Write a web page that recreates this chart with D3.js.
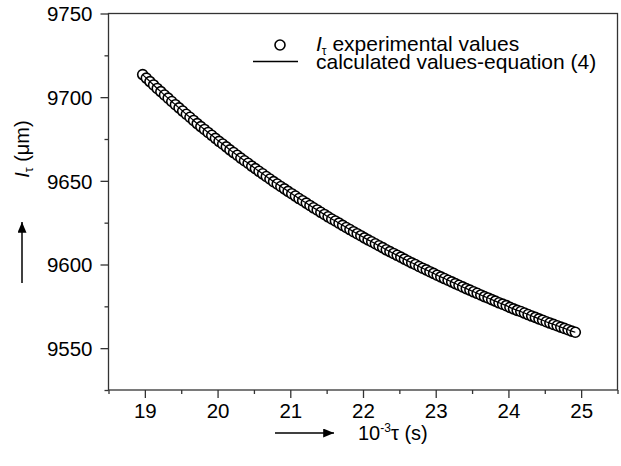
<!DOCTYPE html>
<html>
<head>
<meta charset="utf-8">
<script src="https://cdn.jsdelivr.net/npm/d3@7"></script>
<style>
  body { margin: 0; background: #fff; }
  svg text { font-family: "Liberation Sans", Arial, sans-serif; fill: #000; }
</style>
</head>
<body>
<svg width="621" height="466"></svg>
<script>
const tauValues = [
  18.97, 19.02, 19.07, 19.12, 19.17, 19.22, 19.27, 19.32, 19.37, 19.42,
  19.47, 19.52, 19.57, 19.62, 19.67, 19.72, 19.77, 19.82, 19.87, 19.92,
  19.97, 20.02, 20.07, 20.12, 20.17, 20.22, 20.27, 20.32, 20.37, 20.42,
  20.47, 20.52, 20.57, 20.62, 20.67, 20.72, 20.77, 20.82, 20.87, 20.92,
  20.97, 21.02, 21.07, 21.12, 21.17, 21.22, 21.27, 21.32, 21.37, 21.42,
  21.47, 21.52, 21.57, 21.62, 21.67, 21.72, 21.77, 21.82, 21.87, 21.92,
  21.97, 22.02, 22.07, 22.12, 22.17, 22.22, 22.27, 22.32, 22.37, 22.42,
  22.47, 22.52, 22.57, 22.62, 22.67, 22.72, 22.77, 22.82, 22.87, 22.92,
  22.97, 23.02, 23.07, 23.12, 23.17, 23.22, 23.27, 23.32, 23.37, 23.42,
  23.47, 23.52, 23.57, 23.62, 23.67, 23.72, 23.77, 23.82, 23.87, 23.92,
  23.97, 24.02, 24.07, 24.12, 24.17, 24.22, 24.27, 24.32, 24.37, 24.42,
  24.47, 24.52, 24.57, 24.62, 24.67, 24.72, 24.77, 24.82, 24.87, 24.92
]
const lengthValues = [
  9713.5, 9711.4, 9709.3, 9707.3, 9705.2, 9703.3, 9701.3, 9699.4, 9697.4, 9695.5,
  9693.6, 9691.7, 9689.8, 9688.0, 9686.1, 9684.2, 9682.4, 9680.7, 9678.9, 9677.2,
  9675.4, 9673.6, 9672.0, 9670.3, 9668.5, 9666.9, 9665.3, 9663.6, 9662.0, 9660.5,
  9658.8, 9657.3, 9655.7, 9654.2, 9652.6, 9651.1, 9649.5, 9648.1, 9646.6, 9645.2,
  9643.7, 9642.3, 9640.9, 9639.4, 9638.1, 9636.7, 9635.3, 9633.9, 9632.6, 9631.2,
  9629.9, 9628.5, 9627.2, 9626.0, 9624.7, 9623.4, 9622.1, 9620.9, 9619.6, 9618.4,
  9617.2, 9615.9, 9614.7, 9613.6, 9612.4, 9611.2, 9610.1, 9608.8, 9607.7, 9606.6,
  9605.5, 9604.4, 9603.2, 9602.1, 9601.0, 9600.0, 9598.8, 9597.8, 9596.8, 9595.7,
  9594.7, 9593.6, 9592.6, 9591.6, 9590.6, 9589.6, 9588.6, 9587.6, 9586.6, 9585.6,
  9584.7, 9583.7, 9582.8, 9581.8, 9580.8, 9580.0, 9579.0, 9578.1, 9577.1, 9576.3,
  9575.4, 9574.4, 9573.5, 9572.6, 9571.9, 9571.0, 9570.1, 9569.2, 9568.4, 9567.5,
  9566.7, 9565.8, 9565.0, 9564.2, 9563.4, 9562.6, 9561.8, 9561.0, 9560.2, 9559.5
]
const xTicks = [19, 20, 21, 22, 23, 24, 25]
const xMinorTicks = [18.5, 19.5, 20.5, 21.5, 22.5, 23.5, 24.5, 25.5]
const yTicks = [9550, 9600, 9650, 9700, 9750]
const yMinorTicks = [9525, 9575, 9625, 9675, 9725]

const svg = d3.select('svg')
const margin = {top: 13.5, right: 3.5, bottom: 76, left: 108.5}
const width = +svg.attr('width')
const height = +svg.attr('height')
const innerWidth = width - margin.left - margin.right
const innerHeight = height - margin.top - margin.bottom
const axisColor = '#333'

const data = tauValues.map((t, i) => ({tau: t, len: lengthValues[i]}))

const xscale = d3.scaleLinear().domain([18.5, 25.5]).range([0, innerWidth])
const yscale = d3.scaleLinear().domain([9525, 9750]).range([innerHeight, 0])

const g = svg.append('g')
  .attr('transform', `translate(${margin.left}, ${margin.top})`)

// assen met grote en kleine ticks
const xAxis = g.append('g').attr('transform', `translate(0, ${innerHeight})`)
  .call(d3.axisBottom(xscale).tickValues(xTicks).tickSize(8).tickSizeOuter(0).tickFormat(d3.format('d')))
const xMinor = g.append('g').attr('transform', `translate(0, ${innerHeight})`)
  .call(d3.axisBottom(xscale).tickValues(xMinorTicks).tickSize(4).tickFormat(''))
const yAxis = g.append('g')
  .call(d3.axisLeft(yscale).tickValues(yTicks).tickSize(8).tickSizeOuter(0).tickPadding(8).tickFormat(d3.format('d')))
const yMinor = g.append('g')
  .call(d3.axisLeft(yscale).tickValues(yMinorTicks).tickSize(4).tickFormat(''))

// lege labels van de kleine ticks weg
xMinor.selectAll('text').remove()
yMinor.selectAll('text').remove()

g.selectAll('.domain').remove()
g.selectAll('.tick line').attr('stroke', axisColor).attr('stroke-width', 1.3)
g.selectAll('.tick text').style('font-size', '20.5px').attr('fill', '#000')
xAxis.selectAll('.tick text').attr('dy', 0).attr('y', 28)
yAxis.selectAll('.tick text').attr('dy', '0.36em')

// kader
g.append('rect')
  .attr('width', innerWidth).attr('height', innerHeight)
  .attr('fill', 'none').attr('stroke', axisColor).attr('stroke-width', 1.3)

// meetpunten
g.selectAll('circle.pt').data(data)
  .enter()
  .append('circle')
    .attr('class', 'pt')
    .attr('cx', d => xscale(d.tau))
    .attr('cy', d => yscale(d.len))
    .attr('r', 5)
    .attr('fill', '#fff')
    .attr('stroke', '#000')
    .attr('stroke-width', 1.6)

// berekende lijn
const line = d3.line().x(d => xscale(d.tau)).y(d => yscale(d.len)).curve(d3.curveMonotoneX)
g.append('path').datum(data)
  .attr('d', line)
  .attr('fill', 'none')
  .attr('stroke', '#000')
  .attr('stroke-width', 1.2)

// legenda
svg.append('circle').attr('cx', 280).attr('cy', 45).attr('r', 5)
  .attr('fill', '#fff').attr('stroke', '#000').attr('stroke-width', 1.6)
svg.append('line').attr('x1', 253).attr('x2', 298).attr('y1', 61.5).attr('y2', 61.5)
  .attr('stroke', '#000').attr('stroke-width', 1.4)

const leg1 = svg.append('text').attr('x', 316).attr('y', 51).style('font-size', '21px')
leg1.append('tspan').text('I').style('font-style', 'italic')
leg1.append('tspan').text('τ').style('font-size', '12px').attr('dy', 4)
leg1.append('tspan').text(' experimental values').attr('dy', -4)

svg.append('text').attr('x', 316).attr('y', 68.5).style('font-size', '21px')
  .text('calculated values-equation (4)')

// y-as titel
const yLab = svg.append('text')
  .attr('transform', 'translate(29, 149) rotate(-90)')
  .attr('text-anchor', 'middle')
  .style('font-size', '20px')
yLab.append('tspan').text('I').style('font-style', 'italic')
yLab.append('tspan').text('τ').style('font-size', '12px').attr('dy', 4)
yLab.append('tspan').text(' (μm)').attr('dy', -4)

// x-as titel
const xLab = svg.append('text').attr('x', 358).attr('y', 440).style('font-size', '20px')
xLab.append('tspan').text('10')
xLab.append('tspan').text('-3').style('font-size', '12px').attr('dy', -8)
xLab.append('tspan').text('τ (s)').attr('dy', 8)

// pijlen
svg.append('defs').append('marker')
  .attr('id', 'arrow').attr('viewBox', '0 0 12 10')
  .attr('refX', 12).attr('refY', 5)
  .attr('markerWidth', 12).attr('markerHeight', 9)
  .attr('markerUnits', 'userSpaceOnUse')
  .attr('orient', 'auto')
  .append('path').attr('d', 'M0,0 L12,5 L0,10 Z').attr('fill', '#000')

svg.append('line').attr('x1', 22).attr('x2', 22).attr('y1', 283).attr('y2', 222)
  .attr('stroke', '#000').attr('stroke-width', 1.5).attr('marker-end', 'url(#arrow)')
svg.append('line').attr('x1', 275).attr('x2', 334).attr('y1', 433).attr('y2', 433)
  .attr('stroke', '#000').attr('stroke-width', 1.5).attr('marker-end', 'url(#arrow)')
</script>
</body>
</html>
